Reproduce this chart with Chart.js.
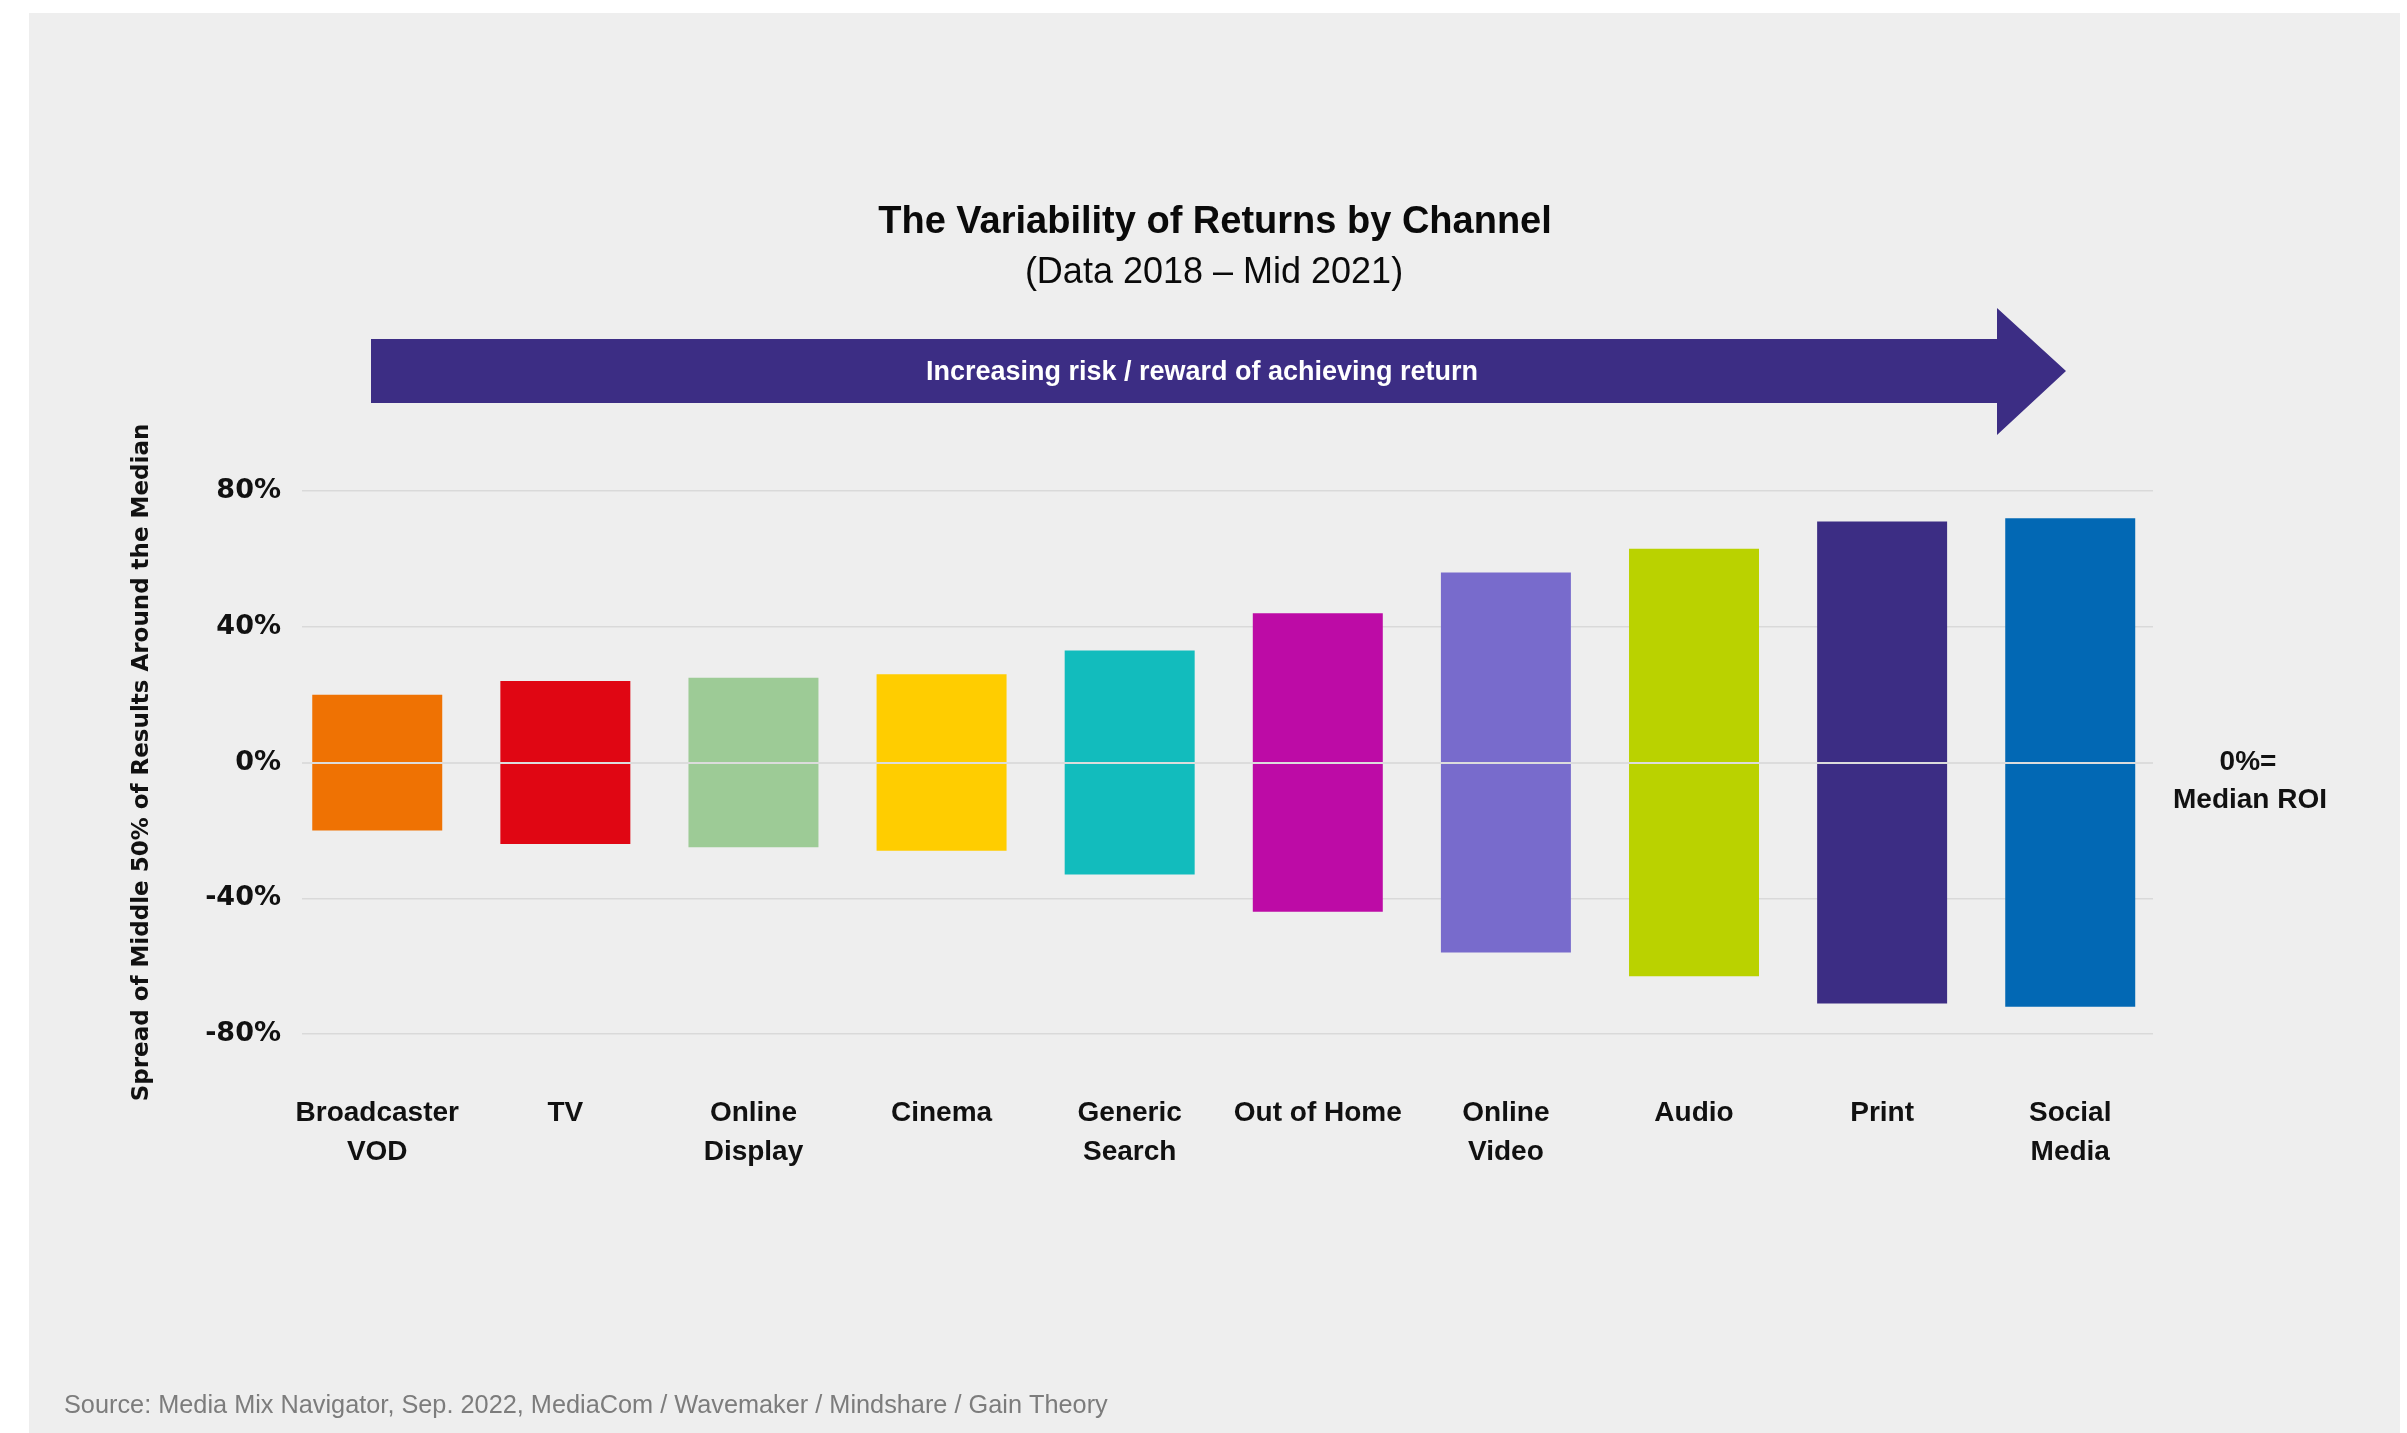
<!DOCTYPE html>
<html>
<head>
<meta charset="utf-8">
<title>The Variability of Returns by Channel</title>
<script src="https://cdn.jsdelivr.net/npm/chart.js@4.4.1/dist/chart.umd.min.js"></script>
<style>
    html, body { margin: 0; padding: 0; background: #ffffff; }
    body { width: 2407px; height: 1433px; position: relative; overflow: hidden; }
    .panel { position: absolute; left: 29px; top: 13px; width: 2371px; height: 1420px; background: #eeeeee; }
    #wrap { position: absolute; left: 0; top: 0; width: 2407px; height: 1433px; }
</style>
</head>
<body>
<div class="panel"></div>
<div id="wrap"><canvas id="spreadChart"></canvas></div>
<script>
// Channels, ordered from lowest to highest spread
const channels = [
    ['Broadcaster', 'VOD'], 'TV', ['Online', 'Display'], 'Cinema', ['Generic', 'Search'],
    'Out of Home', ['Online', 'Video'], 'Audio', 'Print', ['Social', 'Media']
];
// Spread of the middle 50% of results around the median (+/- %)
const spread = [20, 24, 25, 26, 33, 44, 56, 63, 71, 72];
const channelColors = [
    '#ef7203', '#e00613', '#9dcb96', '#ffcd00', '#12bcbd',
    '#bd0ba6', '#786bcc', '#bad200', '#3c2d84', '#0268b4'
];
const yTicks = [-80, -40, 0, 40, 80];

const LABEL_FONT = '"Liberation Sans", Arial, sans-serif';
const AXIS_FONT = '"DejaVu Sans", sans-serif';

// Titles, arrow banner, median note and source line
const chartDecor = {
    id: 'chartDecor',
    afterDatasetsDraw(chart) {
        const { ctx, chartArea, scales: { y } } = chart;
        const zero = Math.round(y.getPixelForValue(0));

        // median line runs over the bars
        ctx.save();
        ctx.strokeStyle = '#dcdcdc';
        ctx.lineWidth = 2;
        ctx.beginPath();
        ctx.moveTo(chartArea.left, zero);
        ctx.lineTo(chartArea.right, zero);
        ctx.stroke();

        ctx.fillStyle = '#111111';
        ctx.textAlign = 'center';
        ctx.textBaseline = 'alphabetic';
        ctx.font = 'bold 28px ' + LABEL_FONT;
        ctx.fillText('0%=', 2248, zero + 7);
        ctx.fillText('Median ROI', 2250, zero + 45);
        ctx.restore();
    },
    afterDraw(chart) {
        const { ctx } = chart;
        ctx.save();
        ctx.textAlign = 'center';
        ctx.textBaseline = 'alphabetic';

        ctx.fillStyle = '#0a0a0a';
        ctx.font = 'bold 38px ' + LABEL_FONT;
        ctx.fillText('The Variability of Returns by Channel', 1215, 233);
        ctx.font = '36px ' + LABEL_FONT;
        ctx.fillText('(Data 2018 \u2013 Mid 2021)', 1214, 283);

        // risk / reward arrow
        ctx.fillStyle = '#3c2d84';
        ctx.beginPath();
        ctx.moveTo(371, 339);
        ctx.lineTo(1997, 339);
        ctx.lineTo(1997, 308);
        ctx.lineTo(2066, 371);
        ctx.lineTo(1997, 435);
        ctx.lineTo(1997, 403);
        ctx.lineTo(371, 403);
        ctx.closePath();
        ctx.fill();

        ctx.fillStyle = '#ffffff';
        ctx.font = 'bold 27px ' + LABEL_FONT;
        ctx.fillText('Increasing risk / reward of achieving return', 1202, 380);

        ctx.textAlign = 'left';
        ctx.fillStyle = '#7c7c7c';
        ctx.font = '25.3px ' + LABEL_FONT;
        ctx.fillText('Source: Media Mix Navigator, Sep. 2022, MediaCom / Wavemaker / Mindshare / Gain Theory', 64, 1413);
        ctx.restore();
    }
};

const ctx = document.getElementById('spreadChart').getContext('2d');
new Chart(ctx, {
    type: 'bar',
    data: {
        datasets: [{
            data: spread.map((s, i) => ({ x: i, y: [-s, s] })),
            backgroundColor: channelColors,
            borderWidth: 0,
            categoryPercentage: 1,
            barPercentage: 0.691
        }]
    },
    options: {
        responsive: true,
        maintainAspectRatio: false,
        animation: false,
        layout: {
            padding: { top: 491, right: 254, bottom: 0, left: 0 }
        },
        plugins: {
            legend: { display: false },
            tooltip: { enabled: false }
        },
        scales: {
            x: {
                type: 'linear',
                offset: false,
                min: -0.4,
                max: 9.44,
                afterBuildTicks: (scale) => {
                    scale.ticks = channels.map((c, i) => ({ value: i }));
                },
                afterFit: (scale) => { scale.height = 399; },
                grid: { display: false, drawTicks: false, offset: false },
                border: { display: false },
                ticks: {
                    autoSkip: false,
                    maxRotation: 0,
                    padding: 60,
                    color: '#111111',
                    font: { family: LABEL_FONT, size: 28, weight: 'bold', lineHeight: 1.39 },
                    callback: (value, index) => channels[index]
                }
            },
            y: {
                min: -80,
                max: 80,
                afterBuildTicks: (scale) => {
                    scale.ticks = yTicks.map(v => ({ value: v }));
                },
                afterFit: (scale) => { scale.width = 302; },
                grid: { color: '#d9d9d9', lineWidth: 1.5, drawTicks: false },
                border: { display: false },
                ticks: {
                    padding: 21,
                    color: '#111111',
                    font: { family: AXIS_FONT, size: 27, weight: 'bold' },
                    callback: (value) => value + '%'
                },
                title: {
                    display: true,
                    text: 'Spread of Middle 50% of Results Around the Median',
                    color: '#111111',
                    font: { family: AXIS_FONT, size: 23, weight: 'bold' },
                    padding: { top: 128, bottom: 0 }
                }
            }
        }
    },
    plugins: [chartDecor]
});
</script>
</body>
</html>
